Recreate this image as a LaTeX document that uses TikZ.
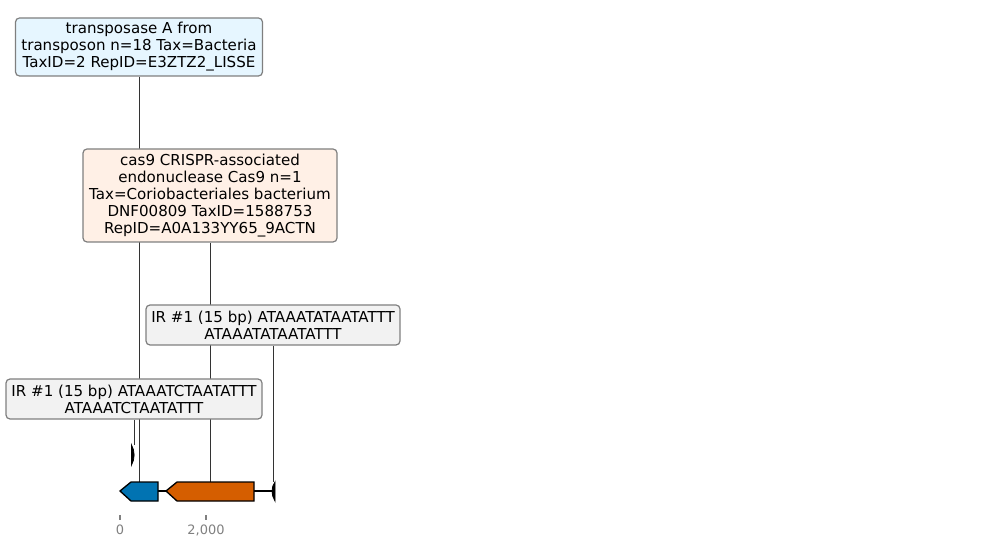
\documentclass[tikz,border=0pt]{standalone}
\usepackage{fontspec}
\setmainfont{DejaVu Sans}
\usetikzlibrary{backgrounds}

\definecolor{boxline}{HTML}{7F7F7F}
\definecolor{tpfill}{HTML}{E6F6FF}
\definecolor{casfill}{HTML}{FFF0E6}
\definecolor{irfill}{HTML}{F2F2F2}
\definecolor{featblue}{HTML}{0173B2}
\definecolor{featorange}{HTML}{D55E00}
\definecolor{axisgrey}{HTML}{808080}

\tikzset{
    labelbox/.style={draw=boxline, line width=0.9pt, rounded corners=3pt,
        align=center, inner sep=0pt,
        font=\fontsize{11.3pt}{12.75pt}\selectfont},
    leader/.style={line width=0.5pt, black!80},
    feature/.style={draw=black, line width=1pt, line join=miter},
    ticklabel/.style={text=axisgrey, font=\fontsize{9.7pt}{11pt}\selectfont}
}

\begin{document}
\begin{tikzpicture}[x=0.75pt, y=-0.75pt]

    % page frame, pixel coordinates
    \useasboundingbox (0,0) rectangle (988,548);

    % 1. Label boxes
    \node[labelbox, fill=tpfill, minimum width=185.25pt, minimum height=43.5pt]
        (tp) at (139,47) {transposase A from\\transposon n=18 Tax=Bacteria\\TaxID=2 RepID=E3ZTZ2\_LISSE};
    \node[labelbox, fill=casfill, minimum width=190.5pt, minimum height=69.75pt]
        (cas) at (210,195.5) {cas9 CRISPR-associated\\endonuclease Cas9 n=1\\Tax=Coriobacteriales bacterium\\DNF00809 TaxID=1588753\\RepID=A0A133YY65\_9ACTN};
    \node[labelbox, fill=irfill, minimum width=190.5pt, minimum height=30pt]
        (irB) at (273,325) {IR \#1 (15 bp) ATAAATATAATATTT\\ATAAATATAATATTT};
    \node[labelbox, fill=irfill, minimum width=192pt, minimum height=30pt]
        (irA) at (134,399) {IR \#1 (15 bp) ATAAATCTAATATTT\\ATAAATCTAATATTT};

    % 2. Feature anchor points
    \coordinate (tpTop) at (139,482);
    \coordinate (casTop) at (210,482);
    \coordinate (irBTop) at (273,482);
    \coordinate (irATop) at (134,445);

    % 3. Leader lines behind the boxes
    \begin{scope}[on background layer]
        \draw[leader] (tp.south) -- (tpTop);
        \draw[leader] (cas.south) -- (casTop);
        \draw[leader] (irB.south) -- (irBTop);
        \draw[leader] (irA.south) -- (irATop);
    \end{scope}

    % 4. Sequence line and features
    \draw[line width=1.5pt] (120,491) -- (274,491);
    \draw[feature, fill=featblue] (120,491) -- (131,482) -- (158,482) -- (158,501) -- (131,501) -- cycle;
    \draw[feature, fill=featorange] (166,491) -- (177,482) -- (254,482) -- (254,501) -- (177,501) -- cycle;
    \filldraw[line width=0.6pt] (275,482) .. controls (271,487) and (271,495) .. (275,501) -- cycle;
    \filldraw[line width=0.6pt] (131.5,445) .. controls (135,451) and (135,459) .. (131.5,465) -- cycle;

    % 5. Axis ticks
    \draw[axisgrey, line width=0.8pt] (120,515) -- (120,520);
    \draw[axisgrey, line width=0.8pt] (206,515) -- (206,520);
    \node[ticklabel] (t0) at (120,530) {0};
    \node[ticklabel] (t2k) at (206,530) {2,000};

\end{tikzpicture}
\end{document}
